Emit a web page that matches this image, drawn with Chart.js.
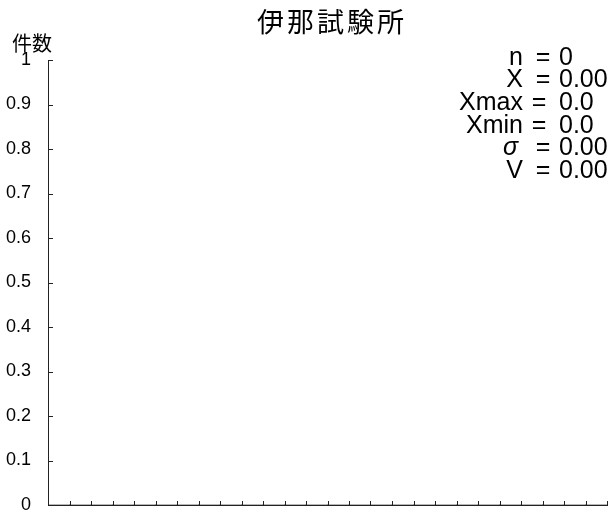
<!DOCTYPE html>
<html>
<head>
<meta charset="utf-8">
<script src="https://cdn.jsdelivr.net/npm/chart.js@4/dist/chart.umd.min.js"></script>
<style>
html,body{margin:0;padding:0;background:#fff;}
#wrap{width:611px;height:515px;position:relative;}
</style>
</head>
<body>
<div id="wrap"><canvas id="c" width="611" height="515"></canvas></div>
<script>
// ---- data ----
const chartTitle = '伊那試験所';
const yAxisTitle = '件数';
const categories = Array.from({length: 26}, () => '');
const counts = [0,0,0,0,0,0,0,0,0,0,0,0,0,0,0,0,0,0,0,0,0,0,0,0,0,0];
const yMin = 0, yMax = 1, yStep = 0.1;
const statLabels = ['n', 'X', 'Xmax', 'Xmin', 'σ', 'V'];
const statValues = ['0', '0.00', '0.0', '0.0', '0.00', '0.00'];

const AXIS_COLOR = '#222';
const NUM_FONT = '"Liberation Sans", Arial, sans-serif';
const JP_FONT = '"Noto Sans CJK JP", "Noto Sans", sans-serif';

const innerTicks = {
  id: 'innerTicks',
  afterDraw(chart) {
    const ctx = chart.ctx;
    const x = chart.scales.x, y = chart.scales.y;
    const area = chart.chartArea;
    ctx.save();
    ctx.strokeStyle = AXIS_COLOR;
    ctx.lineWidth = 1;
    ctx.beginPath();
    for (let i = 0; i <= categories.length; i++) {
      const px = Math.round(x.getPixelForValue(i - 0.5)) + 0.5;
      ctx.moveTo(px, area.bottom);
      ctx.lineTo(px, area.bottom - 4);
    }
    y.ticks.forEach(t => {
      const py = Math.round(y.getPixelForValue(t.value)) + 0.5;
      ctx.moveTo(area.left, py);
      ctx.lineTo(area.left + 5, py);
    });
    ctx.stroke();

    ctx.fillStyle = '#000';
    ctx.textAlign = 'center';
    ctx.textBaseline = 'middle';
    ctx.font = '27px ' + JP_FONT;
    if ('letterSpacing' in ctx) ctx.letterSpacing = '3px';
    ctx.fillText(chartTitle, 332, 22);
    if ('letterSpacing' in ctx) ctx.letterSpacing = '0px';
    ctx.font = '20px ' + JP_FONT;
    ctx.fillText(yAxisTitle, 32, 43);

    for (let i = 0; i < statLabels.length; i++) {
      const yy = 58 + i * 22.6;
      const isSigma = statLabels[i] === 'σ';
      ctx.textAlign = 'right';
      ctx.font = (isSigma ? 'italic ' : '') + '25px ' + NUM_FONT;
      ctx.fillText(statLabels[i], isSigma ? 518 : 523, yy);
      ctx.font = '25px ' + NUM_FONT;
      ctx.textAlign = 'center';
      ctx.fillText('=', statLabels[i].length > 1 && !isSigma ? 539 : 543, yy);
      ctx.textAlign = 'left';
      ctx.fillText(statValues[i], 559, yy);
    }
    ctx.restore();
  }
};

new Chart(document.getElementById('c'), {
  type: 'bar',
  data: {
    labels: categories,
    datasets: [{
      data: counts,
      backgroundColor: AXIS_COLOR,
      borderWidth: 0,
      categoryPercentage: 1,
      barPercentage: 1
    }]
  },
  options: {
    responsive: false,
    animation: false,
    events: [],
    layout: { padding: { top: 60, right: 4, left: 0, bottom: 0 } },
    plugins: {
      legend: { display: false },
      title: { display: false },
      tooltip: { enabled: false }
    },
    scales: {
      x: {
        type: 'category',
        offset: true,
        grid: { display: false, offset: true, drawTicks: false },
        border: { display: true, color: AXIS_COLOR, width: 1 },
        ticks: { display: false },
        afterFit(s) { s.height = 10; }
      },
      y: {
        min: yMin, max: yMax,
        grid: { display: false, drawTicks: false },
        border: { display: true, color: AXIS_COLOR, width: 1 },
        ticks: {
          stepSize: yStep,
          padding: 17,
          color: '#000',
          font: { family: NUM_FONT, size: 18 },
          callback: v => String(Math.round(v * 10) / 10)
        },
        afterFit(s) { s.width = 48; s.paddingTop = 0; s.paddingBottom = 0; }
      }
    }
  },
  plugins: [innerTicks]
});
</script>
</body>
</html>
